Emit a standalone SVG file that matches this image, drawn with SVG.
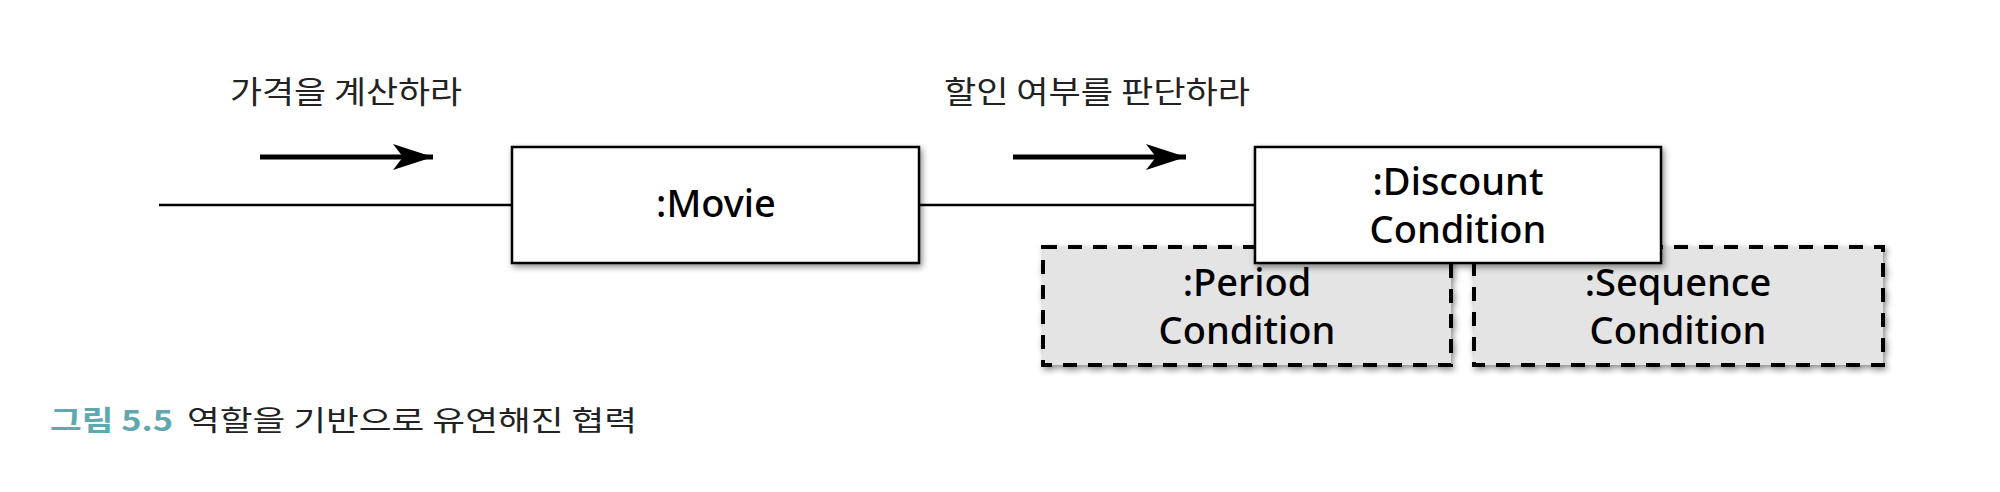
<svg xmlns="http://www.w3.org/2000/svg" width="2000" height="492" viewBox="0 0 2000 492">
<defs>
<filter id="sh" x="-10%" y="-20%" width="130%" height="150%">
<feDropShadow dx="2" dy="3" stdDeviation="3" flood-color="#000" flood-opacity="0.45"/>
</filter>
<marker id="ah" viewBox="0 0 40 26" refX="40" refY="13" markerWidth="40" markerHeight="26" markerUnits="userSpaceOnUse" orient="auto">
<path d="M0,0 L40,13 L0,26 L10,13 Z" fill="#000"/>
</marker>
</defs>
<style>
.lbl{font-family:"Noto Sans CJK KR","Noto Sans",sans-serif;font-size:31px;fill:#222}
.node{font-family:"Noto Sans","Liberation Sans",sans-serif;font-size:38px;font-weight:500;fill:#000;text-anchor:middle}
.box{fill:#fff;stroke:#000;stroke-width:2.5}
.dbox{fill:#e4e4e4;stroke:#000;stroke-width:4;stroke-dasharray:14 11}
.msg{stroke:#000;stroke-width:5;fill:none}
.link{stroke:#000;stroke-width:2.5;fill:none}
.cap{font-family:"Noto Sans CJK KR","Noto Sans",sans-serif;font-size:28px}
</style>
<g id="connectors">
<line class="link" x1="159" y1="205" x2="512" y2="205"/>
<line class="link" x1="919" y1="205" x2="1255" y2="205"/>
<line class="msg" x1="260" y1="157" x2="433" y2="157" marker-end="url(#ah)"/>
<line class="msg" x1="1013" y1="157" x2="1186" y2="157" marker-end="url(#ah)"/>
<text class="lbl" x="230" y="103" textLength="232" lengthAdjust="spacingAndGlyphs">가격을 계산하라</text>
<text class="lbl" x="944" y="103" textLength="306" lengthAdjust="spacingAndGlyphs">할인 여부를 판단하라</text>
</g>
<g id="period">
<rect class="dbox" x="1043" y="247" width="408" height="118" filter="url(#sh)"/>
<text class="node" x="1247" y="296">:Period</text>
<text class="node" x="1247" y="344">Condition</text>
</g>
<g id="sequence">
<rect class="dbox" x="1474" y="247" width="409" height="118" filter="url(#sh)"/>
<text class="node" x="1678" y="296">:Sequence</text>
<text class="node" x="1678" y="344">Condition</text>
</g>
<g id="movie">
<rect class="box" x="512" y="147" width="407" height="116" filter="url(#sh)"/>
<text class="node" x="716" y="217">:Movie</text>
</g>
<g id="discount">
<rect class="box" x="1255" y="147" width="406" height="116" filter="url(#sh)"/>
<text class="node" x="1458" y="195">:Discount</text>
<text class="node" x="1458" y="243">Condition</text>
</g>
<g id="caption">
<text class="cap" x="50" y="431" fill="#5fa8b0" font-weight="bold" textLength="123" lengthAdjust="spacingAndGlyphs">그림 5.5</text>
<text class="cap" x="187" y="431" fill="#222" textLength="450" lengthAdjust="spacingAndGlyphs">역할을 기반으로 유연해진 협력</text>
</g>
</svg>
